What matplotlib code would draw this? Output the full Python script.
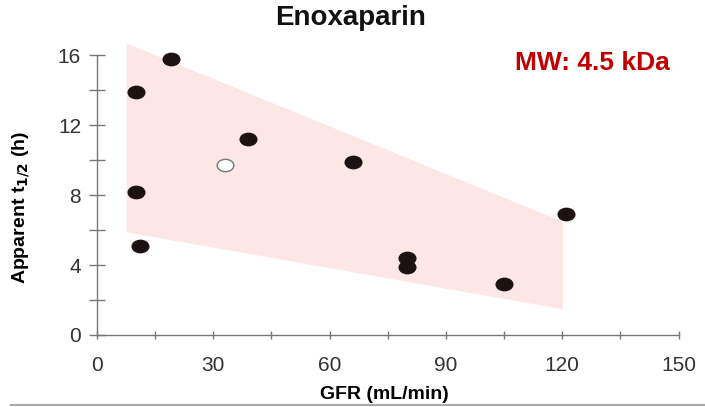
import numpy as np
import matplotlib.pyplot as plt
from matplotlib.path import Path
from matplotlib.transforms import Affine2D

# data
gfr = [10, 19, 10, 11, 39, 66, 80, 80, 105, 121]
thalf = [13.9, 15.8, 8.2, 5.1, 11.2, 9.9, 4.4, 3.9, 2.9, 6.9]
gfr_open = [33]
thalf_open = [9.7]

band_x = [7.5, 120]
band_top = [16.7, 6.5]
band_bot = [5.9, 1.5]

xticks = [0, 30, 60, 90, 120, 150]
xminor = [15, 45, 75, 105, 135]
yticks = [0, 4, 8, 12, 16]
yminor = [2, 6, 10, 14]

plt.rcParams['font.family'] = ['Liberation Sans', 'DejaVu Sans']

fig = plt.figure(figsize=(7.05, 4.07), dpi=100)
ax = fig.add_axes([0.0936, 0.134, 0.902, 0.795])
ax.set_xlim(-8, 156)
ax.set_ylim(-1, 17.5)

ax.fill_between(band_x, band_bot, band_top, color='#fde6e6', lw=0, zorder=1)

# image is stretched sideways, so make the dots a bit wide
ell = Path.unit_circle().transformed(Affine2D().scale(1.35, 1.0))
ax.plot(gfr, thalf, ls='none', marker=ell, ms=12, color='#1c1212', zorder=3)
ax.plot(gfr_open, thalf_open, ls='none', marker=ell, ms=12, mfc='white',
        mec='#777777', mew=1.0, zorder=3)

for s in ['top', 'right']:
    ax.spines[s].set_visible(False)
ax.spines['left'].set_position(('data', 0))
ax.spines['bottom'].set_position(('data', 0))
ax.spines['left'].set_bounds(0, 16)
ax.spines['bottom'].set_bounds(0, 150)
for s in ['left', 'bottom']:
    ax.spines[s].set_color('#777777')
    ax.spines[s].set_linewidth(1.0)

ax.set_xticks(xticks)
ax.set_xticks(xminor, minor=True)
ax.set_yticks(yticks)
ax.set_yticks(yminor, minor=True)
ax.tick_params(which='both', direction='inout', color='#777777', width=1.0)
ax.tick_params(axis='x', which='both', length=6, pad=12)
ax.tick_params(axis='y', which='both', length=11, pad=6)
ax.tick_params(which='major', labelsize=15, labelcolor='#333333')

ax.set_xlabel('GFR (mL/min)', fontsize=14, fontweight='bold', labelpad=8)
fig.text(0.03, 0.49, r'Apparent t$_{\mathbf{1/2}}$ (h)', rotation=90,
         fontsize=14, fontweight='bold', ha='center', va='center')

fig.text(0.497, 0.955, 'Enoxaparin', fontsize=20, fontweight='bold',
         ha='center', va='center', color='#111111')
fig.text(0.73, 0.845, 'MW: 4.5 kDa', fontsize=19, fontweight='bold',
         ha='left', va='center', color='#c00000')

fig.add_artist(plt.Line2D([0.015, 1.0], [0.005, 0.005], color='#aaaaaa', lw=1.5))

fig.savefig('out.png', dpi=100)
